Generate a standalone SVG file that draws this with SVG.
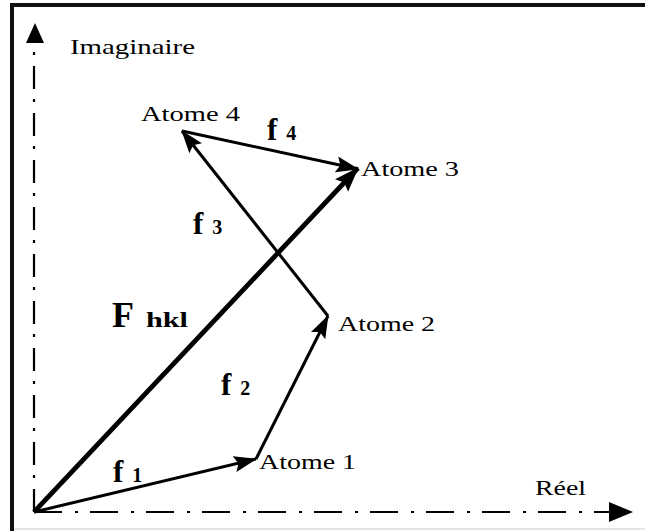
<svg xmlns="http://www.w3.org/2000/svg" width="645" height="531" viewBox="0 0 645 531">
<style>
.lbl{font-family:"Liberation Serif","Times New Roman",serif;font-size:22px;fill:#000}
.fv{font-family:"Liberation Serif","Times New Roman",serif;font-weight:bold;font-size:31px;fill:#000}
.sub{font-family:"Liberation Serif","Times New Roman",serif;font-weight:bold;font-size:20px;fill:#000}
.vec{stroke:#000;stroke-width:3;fill:none;marker-end:url(#ah)}
.axis{stroke:#000;stroke-width:2.2;fill:none}
</style>
<defs>
<marker id="ah" markerUnits="userSpaceOnUse" markerWidth="26" markerHeight="18" refX="22" refY="8" orient="auto">
<path d="M0,0 L23,8 L0,16 L4,8 z" fill="#000"/>
</marker>
<marker id="ahF" markerUnits="userSpaceOnUse" markerWidth="28" markerHeight="20" refX="24" refY="9" orient="auto">
<path d="M0,0 L25,9 L0,18 L4,9 z" fill="#000"/>
</marker>
</defs>
<rect x="0" y="0" width="645" height="531" fill="#fff"/>
<g id="frame">
<line x1="10" y1="5" x2="645" y2="5" stroke="#111" stroke-width="4"/>
<line x1="12" y1="3" x2="12" y2="531" stroke="#111" stroke-width="4"/>
<line x1="14" y1="529" x2="645" y2="529" stroke="#ddd" stroke-width="1.5"/>
</g>
<g id="axes">
<line class="axis" x1="34" y1="512" x2="34" y2="44" stroke-dasharray="23 11 3 10"/>
<path d="M35,23 L26,43 L44,43 z" fill="#000"/>
<line class="axis" x1="34" y1="512" x2="611" y2="512" stroke-dasharray="28 13 3 12"/>
<path d="M633,512 L609,502 L609,522 z" fill="#000"/>
<text id="imag" class="lbl" x="70" y="54" textLength="125" lengthAdjust="spacingAndGlyphs">Imaginaire</text>
<text id="reel" class="lbl" x="535" y="495" textLength="51" lengthAdjust="spacingAndGlyphs">Réel</text>
</g>
<g id="connectors">
<line x1="34" y1="512" x2="358" y2="168" stroke="#000" stroke-width="4.8" marker-end="url(#ahF)"/>
<line class="vec" x1="34" y1="512" x2="256" y2="459"/>
<line class="vec" x1="256" y1="459" x2="328" y2="316"/>
<line class="vec" x1="328" y1="316" x2="182" y2="131"/>
<line class="vec" x1="182" y1="131" x2="358" y2="169"/>
</g>
<g id="atome1"><text class="lbl" x="259" y="469" textLength="97" lengthAdjust="spacingAndGlyphs">Atome 1</text></g>
<g id="atome2"><text class="lbl" x="338" y="331" textLength="97" lengthAdjust="spacingAndGlyphs">Atome 2</text></g>
<g id="atome3"><text class="lbl" x="361" y="176" textLength="98" lengthAdjust="spacingAndGlyphs">Atome 3</text></g>
<g id="atome4"><text class="lbl" x="141" y="121" textLength="99" lengthAdjust="spacingAndGlyphs">Atome 4</text></g>
<g id="labels">
<text class="fv" x="113" y="482">f<tspan class="sub" dx="9">1</tspan></text>
<text class="fv" x="221" y="395">f<tspan class="sub" dx="9">2</tspan></text>
<text class="fv" x="193" y="234">f<tspan class="sub" dx="9">3</tspan></text>
<text class="fv" x="267" y="140">f<tspan class="sub" dx="9">4</tspan></text>
<text class="fv" x="112" y="327" style="font-size:36px">F<tspan class="sub" dx="12" textLength="42" lengthAdjust="spacingAndGlyphs">hkl</tspan></text>
</g>
</svg>
